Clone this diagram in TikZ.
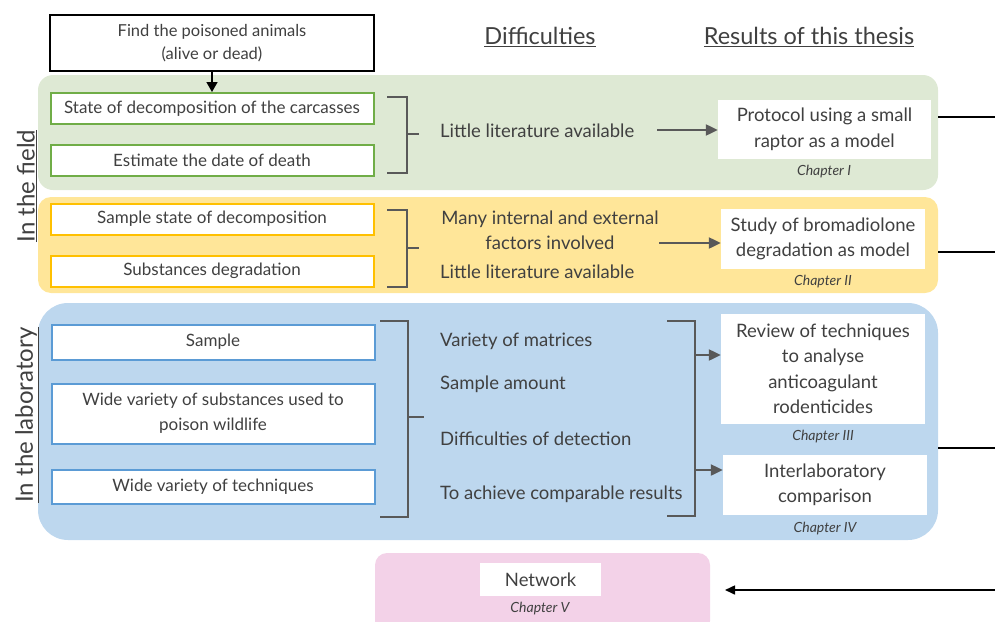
\documentclass[tikz,border=0pt]{standalone}
\usepackage{fontspec}
\setmainfont{Lato}
\usetikzlibrary{arrows.meta}
\definecolor{txt}{HTML}{404040}
\definecolor{brk}{HTML}{595959}
\definecolor{fieldbg}{HTML}{DEE9D4}
\definecolor{fieldln}{HTML}{70AD47}
\definecolor{decobg}{HTML}{FFE699}
\definecolor{decoln}{HTML}{FFC000}
\definecolor{labbg}{HTML}{BDD7EE}
\definecolor{labln}{HTML}{5B9BD5}
\definecolor{netbg}{HTML}{F3D2E8}
\tikzset{
  panel/.style={inner sep=0pt, rounded corners=#1},
  box/.style={draw=#1, line width=2pt, fill=white, text=txt, inner sep=0pt,
    minimum width=323pt, align=center, font=\fontsize{17}{25}\selectfont},
  result/.style={fill=white, text=txt, inner sep=0pt, align=center,
    font=\fontsize{18.5}{25.5}\selectfont},
  chap/.style={text=txt, inner sep=0pt, font=\fontsize{14}{16}\selectfont\itshape},
  diff/.style={text=txt, inner sep=0pt, anchor=west, font=\fontsize{18.5}{25}\selectfont},
  head/.style={text=txt, inner sep=0pt, font=\fontsize{23.5}{26}\selectfont},
  side/.style={text=txt, inner sep=0pt, rotate=90, font=\fontsize{24}{26}\selectfont},
  bracket/.style={draw=brk, line width=1.8pt},
  garrow/.style={draw=brk, line width=2.2pt, -{Triangle[length=12pt,width=11pt]}},
  link/.style={draw=black, line width=1.6pt},
}
\begin{document}
\begin{tikzpicture}[x=1pt,y=-1pt]
\useasboundingbox (0,0) rectangle (995,621);

% column headings
\node[head] (hdiff) at (540,37) {\underline{Difficulties}};
\node[head] (hres) at (809,37) {\underline{Results of this thesis}};

% background bands
\node[panel=15pt, fill=fieldbg, minimum width=900pt, minimum height=115pt] (field) at (488,132.5) {};
\node[panel=13pt, fill=decobg, minimum width=900pt, minimum height=96pt] (deco) at (488,245) {};
\node[panel=30pt, fill=labbg, minimum width=900pt, minimum height=237pt] (lab) at (488,421.5) {};
\node[panel=12pt, fill=netbg, minimum width=335pt, minimum height=80pt] (net) at (542.5,593) {};

% side labels
\node[side] (sfield) at (27,186) {\underline{In the field}};
\node[side] (slab) at (27,415) {\underline{In the laboratory}};

% starting point
\node[draw=black, line width=1.8pt, fill=white, text=txt, inner sep=0pt, minimum width=324pt,
  minimum height=56pt, align=center, font=\fontsize{16.5}{23}\selectfont] (find) at (212,43)
  {Find the poisoned animals\\(alive or dead)};

% field problems
\node[box=fieldln, minimum height=31pt] (f1) at (212,108.5) {State of decomposition of the carcasses};
\node[box=fieldln, minimum height=31pt] (f2) at (212,160) {Estimate the date of death};
\draw[-{Triangle[length=10pt,width=11pt]}, line width=1.6pt] (find.south) -- (f1.north);

% decomposition problems
\node[box=decoln, minimum height=31pt] (d1) at (212,219) {Sample state of decomposition};
\node[box=decoln, minimum height=31pt] (d2) at (212,271) {Substances degradation};

% laboratory problems
\node[box=labln, minimum height=35pt] (l1) at (213,342) {Sample};
\node[box=labln, minimum height=60pt] (l2) at (213,413.5) {Wide variety of substances used to\\poison wildlife};
\node[box=labln, minimum height=34pt] (l3) at (213,486.5) {Wide variety of techniques};

% brackets grouping the problems
\coordinate (b1t) at (387,97);  \coordinate (b1b) at (387,173);
\draw[bracket] (b1t) -- (407,97) -- (407,173) -- (b1b);
\draw[bracket] (407,134) -- (419,134);
\coordinate (b2t) at (387,210); \coordinate (b2b) at (387,287);
\draw[bracket] (b2t) -- (407,210) -- (407,287) -- (b2b);
\draw[bracket] (407,248) -- (419,248);
\coordinate (b3t) at (380,321); \coordinate (b3b) at (380,517);
\draw[bracket] (b3t) -- (408,321) -- (408,517) -- (b3b);
\draw[bracket] (408,417) -- (424,417);
\coordinate (b4t) at (667,321); \coordinate (b4b) at (667,516);
\draw[bracket] (b4t) -- (695,321) -- (695,516) -- (b4b);

% difficulties
\node[diff] (t1) at (440,131) {Little literature available};
\node[text=txt, inner sep=0pt, align=center, font=\fontsize{18.5}{25}\selectfont] (t2) at (550,230.5)
  {Many internal and external\\factors involved};
\node[diff] (t3) at (440,272) {Little literature available};
\node[diff] (t4) at (440,341) {Variety of matrices};
\node[diff] (t5) at (440,384) {Sample amount};
\node[diff] (t6) at (440,439) {Difficulties of detection};
\node[diff] (t7) at (440,494) {To achieve comparable results};

% results
\node[result, minimum width=213pt, minimum height=59pt] (r1) at (824.5,129.5) {Protocol using a small\\raptor as a model};
\node[chap] (c1) at (824,172) {Chapter I};
\node[result, minimum width=204pt, minimum height=60pt] (r2) at (823,239) {Study of bromadiolone\\degradation as model};
\node[chap] (c2) at (823,282) {Chapter II};
\node[result, minimum width=204pt, minimum height=110pt] (r3) at (823,369) {Review of techniques\\to analyse\\anticoagulant\\rodenticides};
\node[chap] (c3) at (823,437) {Chapter III};
\node[result, minimum width=204pt, minimum height=60pt] (r4) at (825,485) {Interlaboratory\\comparison};
\node[chap] (c4) at (825,529) {Chapter IV};
\node[result, minimum width=121pt, minimum height=33pt] (r5) at (540.5,579.5) {Network};
\node[chap] (c5) at (540,609) {Chapter V};

% arrows towards the results
\coordinate (a1) at (657,130);
\draw[garrow] (a1) -- (r1.west |- a1);
\coordinate (a2) at (659,243);
\draw[garrow] (a2) -- (r2.west |- a2);
\coordinate (a3) at (695,355);
\draw[garrow] (a3) -- (r3.west |- a3);
\coordinate (a4) at (695,470);
\draw[garrow] (a4) -- (r4.west |- a4);

% links leaving to the right and returning to the network
\coordinate (e1) at (995,117);
\coordinate (e2) at (995,252);
\coordinate (e3) at (995,448);
\coordinate (e4) at (995,590);
\draw[link] (field.east |- e1) -- (e1);
\draw[link] (deco.east |- e2) -- (e2);
\draw[link] (lab.east |- e3) -- (e3);
\coordinate (nettip) at (725,590);
\draw[link, -{Triangle[length=10pt,width=9pt]}] (e4) -- (nettip);
\end{tikzpicture}
\end{document}
